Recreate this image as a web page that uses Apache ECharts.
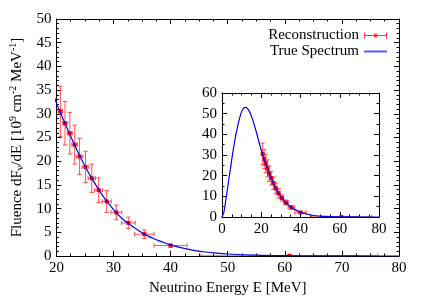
<!DOCTYPE html>
<html>
<head>
<meta charset="utf-8">
<script src="https://cdn.jsdelivr.net/npm/echarts@6/dist/echarts.min.js"></script>
<style>html,body{margin:0;padding:0;background:#fff}#c{width:432px;height:305px}</style>
</head>
<body>
<div id="c"></div>
<script>
// Reconstructed points
const recoE    = [20.7, 21.5, 22.35, 23.2, 24.05, 25.1, 26.2, 27.4, 28.8, 30.5, 32.6, 35.4, 40.0, 60.8];
const recoF    = [30.5, 28.0, 25.9, 23.5, 21.0, 18.8, 16.4, 13.9, 11.5, 9.2, 7.0, 4.6, 2.2, 0.05];
const recoErrE = [0.4, 0.4, 0.45, 0.5, 0.6, 0.6, 0.65, 0.7, 0.8, 0.95, 1.2, 1.7, 2.9, 15.5];
const recoErrF = [5.3, 4.6, 4.4, 4.1, 3.8, 3.3, 3.0, 2.6, 2.3, 1.55, 1.2, 0.9, 0.35, 0.1];
// True spectrum
const trueE = [0,1,2,3,4,5,6,7,8,9,10,11,12,13,14,15,16,17,18,19,20,21,22,23,24,25,26,27,28,29,30,31,32,33,34,35,36,37,38,39,40,42,44,46,48,50,55,60,65,70,75,80];
const trueF = [0,2.5,8.5,15,21.5,28,34,39.5,44,48,51,52.7,53,52.4,51,48.8,46,42.8,39.3,35.8,32.3,29.4,26.6,23.9,21.3,19.0,16.8,14.8,12.9,11.3,9.8,8.5,7.4,6.5,5.7,4.9,4.25,3.7,3.2,2.75,2.35,1.7,1.2,0.85,0.6,0.42,0.18,0.07,0.03,0.01,0.005,0];
// Axis ticks
const mainX = {min: 20, max: 80, step: 10};
const mainY = {min: 0, max: 50, step: 5};
const insetX = {min: 0, max: 80, step: 20};
const insetY = {min: 0, max: 60, step: 10};

const FONT = 'Liberation Serif';
const chart = echarts.init(document.getElementById('c'), null, {renderer: 'canvas'});

function axis(type, gridIndex, rng, pos, showLabel, minorSplit, extra) {
  const a = {
    type: 'value', gridIndex, min: rng.min, max: rng.max, interval: rng.step, position: pos,
    axisLine: {show: true, onZero: false, lineStyle: {color: '#000', width: 1}},
    axisTick: {show: true, inside: true, length: 5, lineStyle: {color: '#000', width: 1}},
    minorTick: {show: true, splitNumber: minorSplit, length: 2.5, lineStyle: {color: '#000', width: 1}},
    splitLine: {show: false},
    axisLabel: {show: showLabel, fontFamily: FONT, fontSize: 15, color: '#000', margin: 5},
  };
  return Object.assign(a, extra || {});
}

const recoData = recoE.map((e, i) => [e, recoF[i], recoErrE[i], recoErrF[i]]);
const trueData = trueE.map((e, i) => [e, trueF[i]]);

function renderErr(params, api) {
  const x = api.value(0), y = api.value(1), ex = api.value(2), ey = api.value(3);
  const c = api.coord([x, y]);
  const l = api.coord([x - ex, y]), r = api.coord([x + ex, y]);
  const t = api.coord([x, y + ey]), b = api.coord([x, y - ey]);
  const cap = 2.2;
  const st = {stroke: 'rgba(255,40,40,0.75)', lineWidth: 1.1};
  const ln = (x1, y1, x2, y2) => ({type: 'line', shape: {x1, y1, x2, y2}, style: st});
  return {type: 'group', children: [
    ln(c[0], t[1], c[0], b[1]),
    ln(c[0] - cap, t[1], c[0] + cap, t[1]),
    ln(c[0] - cap, b[1], c[0] + cap, b[1]),
    ln(l[0], c[1], r[0], c[1]),
    ln(l[0], c[1] - cap, l[0], c[1] + cap),
    ln(r[0], c[1] - cap, r[0], c[1] + cap),
    {type: 'rect', shape: {x: c[0] - 2, y: c[1] - 2, width: 4, height: 4}, style: {fill: '#f00'}}
  ]};
}

const option = {
  animation: false,
  backgroundColor: '#fff',
  grid: [
    {left: 53, top: 19, width: 346, height: 237, show: false},
    {left: 222, top: 93, width: 157, height: 124, show: true, backgroundColor: '#fff', borderWidth: 0, z: 5}
  ],
  legend: {
    orient: 'vertical', right: 40, top: 23, align: 'right', itemGap: 1,
    itemWidth: 23, itemHeight: 8,
    textStyle: {fontFamily: FONT, fontSize: 15, color: '#000'},
    data: [
      {name: 'Reconstruction', icon: 'path://M0,2H1V8H0Z M22,2H23V8H22Z M0,4.5H23V5.5H0Z M10,3.3H13V6.7H10Z', itemStyle: {color: 'rgba(255,30,30,0.9)'}},
      {name: 'True Spectrum', icon: 'path://M0,4H23V6H0Z', itemStyle: {color: '#5a5aff'}}
    ]
  },
  xAxis: [
    axis('x', 0, mainX, 'bottom', true, 4, {
      name: 'Neutrino Energy E [MeV]', nameLocation: 'middle', nameGap: 22,
      nameTextStyle: {fontFamily: FONT, fontSize: 15, color: '#000'}
    }),
    axis('x', 0, mainX, 'top', false, 4),
    axis('x', 1, insetX, 'bottom', true, 4, {z: 6}),
    axis('x', 1, insetX, 'top', false, 4, {z: 6})
  ],
  yAxis: [
    axis('y', 0, mainY, 'left', true, 5, {
      name: '{n|Fluence dF}{sub|ν}{n|/dE [10}{sup|9}{n| cm}{sup|-2}{n| MeV}{sup|-1}{n|]}',
      nameLocation: 'middle', nameGap: 27, nameRotate: 90,
      nameTextStyle: {fontFamily: FONT, fontSize: 15, color: '#000', rich: {
        n: {fontFamily: FONT, fontSize: 15, color: '#000'},
        sub: {fontFamily: FONT, fontSize: 10, color: '#000', padding: [7, 0, 0, 0]},
        sup: {fontFamily: FONT, fontSize: 10, color: '#000', padding: [0, 0, 8, 0]}
      }}
    }),
    axis('y', 0, mainY, 'right', false, 5),
    axis('y', 1, insetY, 'left', true, 2, {z: 6}),
    axis('y', 1, insetY, 'right', false, 2, {z: 6})
  ],
  series: [
    {name: 'Reconstruction', type: 'custom', xAxisIndex: 0, yAxisIndex: 0, renderItem: renderErr,
     itemStyle: {color: '#f00'}, data: recoData, z: 2, clip: true},
    {name: 'True Spectrum', type: 'line', xAxisIndex: 0, yAxisIndex: 0, data: trueData, smooth: 0.3,
     showSymbol: false, lineStyle: {color: '#0000ee', width: 1.2}, itemStyle: {color: '#0000ee'}, z: 3, clip: true},
    {name: 'Reconstruction', type: 'custom', xAxisIndex: 2, yAxisIndex: 2, renderItem: renderErr,
     itemStyle: {color: '#f00'}, data: recoData, z: 7, clip: true},
    {name: 'True Spectrum', type: 'line', xAxisIndex: 2, yAxisIndex: 2, data: trueData, smooth: 0.3,
     showSymbol: false, lineStyle: {color: '#0000ee', width: 1.2}, itemStyle: {color: '#0000ee'}, z: 8, clip: true}
  ]
};
chart.setOption(option);
</script>
</body>
</html>
